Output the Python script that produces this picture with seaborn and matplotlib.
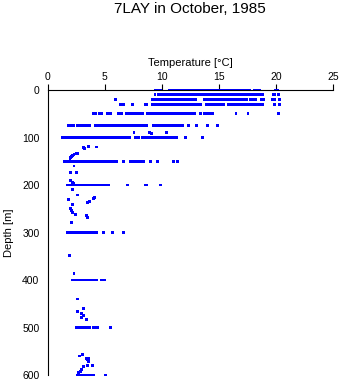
import numpy as np
import pandas as pd
import matplotlib
matplotlib.use("Agg")
import matplotlib.pyplot as plt
import seaborn as sns

# ---------------- data ----------------
title = "7LAY in October, 1985"
x_label = "Temperature [°C]"
y_label = "Depth [m]"
x_ticks = [0, 5, 10, 15, 20, 25]
y_ticks = [0, 100, 200, 300, 400, 500, 600]

# standard depths and the temperatures observed at each of them
depth_levels = [0, 10, 20, 30, 50, 75, 100, 150, 200, 300, 400, 500, 600]
t_0 = [9.4, 9.5, 9.8, 9.9, 10.7, 10.8, 10.9, 11.0, 11.2, 11.4, 11.6, 11.8, 12.0, 12.2,
       12.4, 12.6, 12.8, 13.0, 13.3, 13.5, 13.7, 13.9, 14.1, 14.3, 14.5, 14.7, 14.9,
       15.1, 15.3, 15.5, 15.7, 15.9, 16.1, 16.3, 16.5, 16.7, 16.9, 17.1, 17.3, 17.6,
       17.7, 18.1, 18.2, 18.4, 18.6, 20.0, 20.1]
t_10 = [9.4, 9.7, 9.9, 10.1, 10.3, 10.5, 10.7, 10.9, 11.0, 11.3, 11.5, 11.7, 11.9,
        12.1, 12.3, 12.5, 12.7, 12.9, 13.0, 13.2, 13.3, 13.5, 13.7, 13.9, 14.1, 14.3,
        14.5, 14.7, 14.9, 15.1, 15.3, 15.4, 15.6, 15.7, 15.9, 16.1, 16.3, 16.5, 16.7,
        16.9, 17.1, 17.3, 17.5, 17.6, 17.8, 18.0, 18.2, 18.4, 18.6, 18.8, 19.8, 19.9,
        20.2]
t_20 = [5.9, 9.2, 9.4, 9.6, 9.8, 10.0, 10.2, 10.4, 10.6, 10.8, 11.0, 11.2, 11.4, 11.6,
        11.8, 12.0, 12.2, 12.4, 12.6, 12.8, 12.95, 13.7, 13.9, 14.1, 14.3, 14.5, 14.7,
        14.9, 15.1, 15.3, 15.5, 15.7, 15.9, 16.1, 16.3, 16.5, 16.7, 16.9, 17.1, 17.3,
        17.45, 17.8, 18.0, 18.2, 18.7, 18.9, 19.7, 19.9, 20.3]
t_30 = [6.4, 6.6, 7.4, 8.6, 8.7, 9.2, 9.4, 9.6, 9.8, 10.0, 10.2, 10.4, 10.6, 10.8,
        11.0, 11.2, 11.4, 11.6, 11.8, 12.0, 12.2, 12.4, 12.6, 12.8, 13.0, 13.2, 13.4,
        13.9, 14.1, 14.3, 14.5, 14.7, 14.9, 15.1, 15.3, 15.45, 15.8, 16.0, 16.2, 16.4,
        16.6, 16.8, 17.0, 17.2, 17.4, 17.7, 17.9, 18.1, 18.3, 18.6, 18.8, 19.9, 20.3]
t_50 = [4.0, 4.2, 4.5, 4.7, 5.2, 5.5, 6.2, 6.5, 6.9, 7.1, 7.3, 7.5, 7.7, 7.9, 8.1,
        8.3, 8.7, 8.9, 9.1, 9.3, 9.5, 9.7, 9.9, 10.1, 10.3, 10.5, 10.7, 10.9, 11.1,
        11.3, 11.5, 11.7, 11.8, 12.0, 12.2, 12.4, 12.6, 12.9, 13.4, 13.7, 13.9, 14.2,
        14.4, 16.5, 17.55, 20.2]
t_75 = [1.8, 2.1, 2.3, 2.6, 2.8, 3.0, 3.2, 3.4, 3.6, 3.7, 4.2, 4.4, 4.6, 4.8, 5.0,
        5.2, 5.4, 5.6, 5.8, 6.0, 6.2, 6.4, 6.6, 6.8, 7.0, 7.2, 7.4, 7.6, 7.8, 8.0, 8.2,
        8.4, 8.6, 8.7, 9.3, 9.5, 9.7, 9.9, 10.1, 10.3, 10.5, 10.7, 10.9, 11.1, 11.3,
        11.5, 11.7, 11.8, 12.3, 13.0, 14.0, 14.85]
t_100 = [1.3, 1.5, 1.7, 1.9, 2.1, 2.3, 2.5, 2.7, 2.9, 3.1, 3.3, 3.5, 3.7, 3.9, 4.1,
         4.3, 4.5, 4.7, 4.9, 5.1, 5.3, 5.5, 5.7, 5.9, 6.1, 6.3, 6.5, 6.7, 6.8, 7.0,
         7.2, 7.65, 7.8, 8.0, 8.3, 8.5, 8.7, 8.9, 9.0, 9.2, 9.4, 9.6, 9.8, 10.0, 10.2,
         10.4, 10.6, 10.8, 11.0, 11.2, 11.3, 12.1, 13.6]
t_150 = [1.45, 1.6, 1.8, 2.0, 2.2, 2.4, 2.6, 2.8, 3.0, 3.2, 3.4, 3.6, 3.8, 4.0, 4.2,
         4.4, 4.6, 4.8, 5.0, 5.2, 5.4, 5.6, 5.8, 6.0, 6.66, 7.25, 7.45, 7.65, 7.85,
         7.97, 8.1, 8.4, 9.0, 9.6, 11.06, 11.35]
t_200 = [1.7, 1.9, 2.1, 2.3, 2.5, 2.7, 2.9, 3.1, 3.3, 3.5, 3.7, 3.9, 4.1, 4.3, 4.5,
         4.7, 4.9, 5.1, 5.3, 7.0, 8.6, 8.7, 9.9]
t_300 = [1.75, 1.95, 2.15, 2.35, 2.55, 2.75, 2.95, 3.15, 3.35, 3.55, 3.75, 3.95, 4.15,
         4.3, 4.85, 5.7, 6.6]
t_400 = [2.2, 2.4, 2.6, 2.8, 3.0, 3.2, 3.4, 3.6, 3.8, 4.0, 4.2, 4.3, 4.75, 4.95]
t_500 = [2.55, 2.75, 2.95, 3.15, 3.35, 3.55, 3.7, 4.0, 4.2, 4.4, 5.5]
t_600 = [2.6, 2.8, 3.0, 3.2, 3.4, 3.6, 3.8, 4.0, 5.1]
level_temps = [t_0, t_10, t_20, t_30, t_50, t_75, t_100, t_150, t_200, t_300,
               t_400, t_500, t_600]

# isolated observations between the standard depths
extra_depths = [89, 90, 92, 89, 119, 120, 122, 123, 133, 134, 136, 138, 140, 142, 145,
                160, 173, 173, 190, 195, 197, 209, 221, 226, 228, 230, 234, 236, 242,
                250, 254, 258, 262, 264, 268, 278, 348, 386, 440, 460, 466, 470, 474,
                479, 484, 556, 560, 565, 566, 568, 572, 580, 580, 583, 588, 592, 595]
extra_temps = [8.9, 7.56, 9.1, 10.4, 3.6, 4.3, 3.1, 3.25, 2.5, 2.6, 2.3, 2.2, 2.1, 2.0,
               1.95, 2.3, 2.0, 2.5, 2.0, 2.2, 2.3, 2.2, 2.6, 4.1, 4.0, 1.8, 3.7, 3.5,
               2.2, 2.0, 2.1, 2.2, 2.4, 3.4, 3.5, 2.1, 1.9, 2.3, 2.6, 3.15, 2.6, 3.0,
               3.15, 3.0, 3.4, 3.06, 2.8, 3.4, 3.6, 3.5, 3.6, 3.5, 3.9, 3.15, 3.0, 2.9,
               2.7]

# ---------------- build table ----------------
rows = []
for d, temps in zip(depth_levels, level_temps):
    for t in temps:
        rows.append((t, d))
for d, t in zip(extra_depths, extra_temps):
    rows.append((t, d))
df = pd.DataFrame(rows, columns=["temperature", "depth"])

# ---------------- plot ----------------
sns.set_theme(style="white")
plt.rcParams["font.family"] = ["Liberation Sans", "DejaVu Sans"]

fig = plt.figure(figsize=(3.41, 3.84), dpi=100)
ax = fig.add_axes([0.14, 0.0234, 0.8365, 0.7422])

sns.scatterplot(data=df, x="temperature", y="depth", ax=ax, marker="s", s=4.5,
                color="#0000ff", edgecolor="none", linewidth=0, clip_on=False,
                legend=False)

ax.set_xlim(0, 25)
ax.set_ylim(600, 0)
ax.set_xticks(x_ticks)
ax.set_yticks(y_ticks)
ax.xaxis.tick_top()
ax.xaxis.set_label_position("top")
ax.spines["right"].set_visible(False)
ax.spines["bottom"].set_visible(False)
for s in ["top", "left"]:
    ax.spines[s].set_color("black")
    ax.spines[s].set_linewidth(0.8)
ax.tick_params(axis="both", direction="out", length=4, width=0.8, color="black",
               labelsize=7.5, labelcolor="black", pad=2)
ax.set_xlabel(x_label, fontsize=8, color="black", labelpad=4)
ax.set_ylabel(y_label, fontsize=8, color="black", labelpad=6)
ax.grid(False)

fig.text(0.557, 0.996, title, ha="center", va="top", fontsize=11, color="black")

fig.savefig("out.png", dpi=100)
